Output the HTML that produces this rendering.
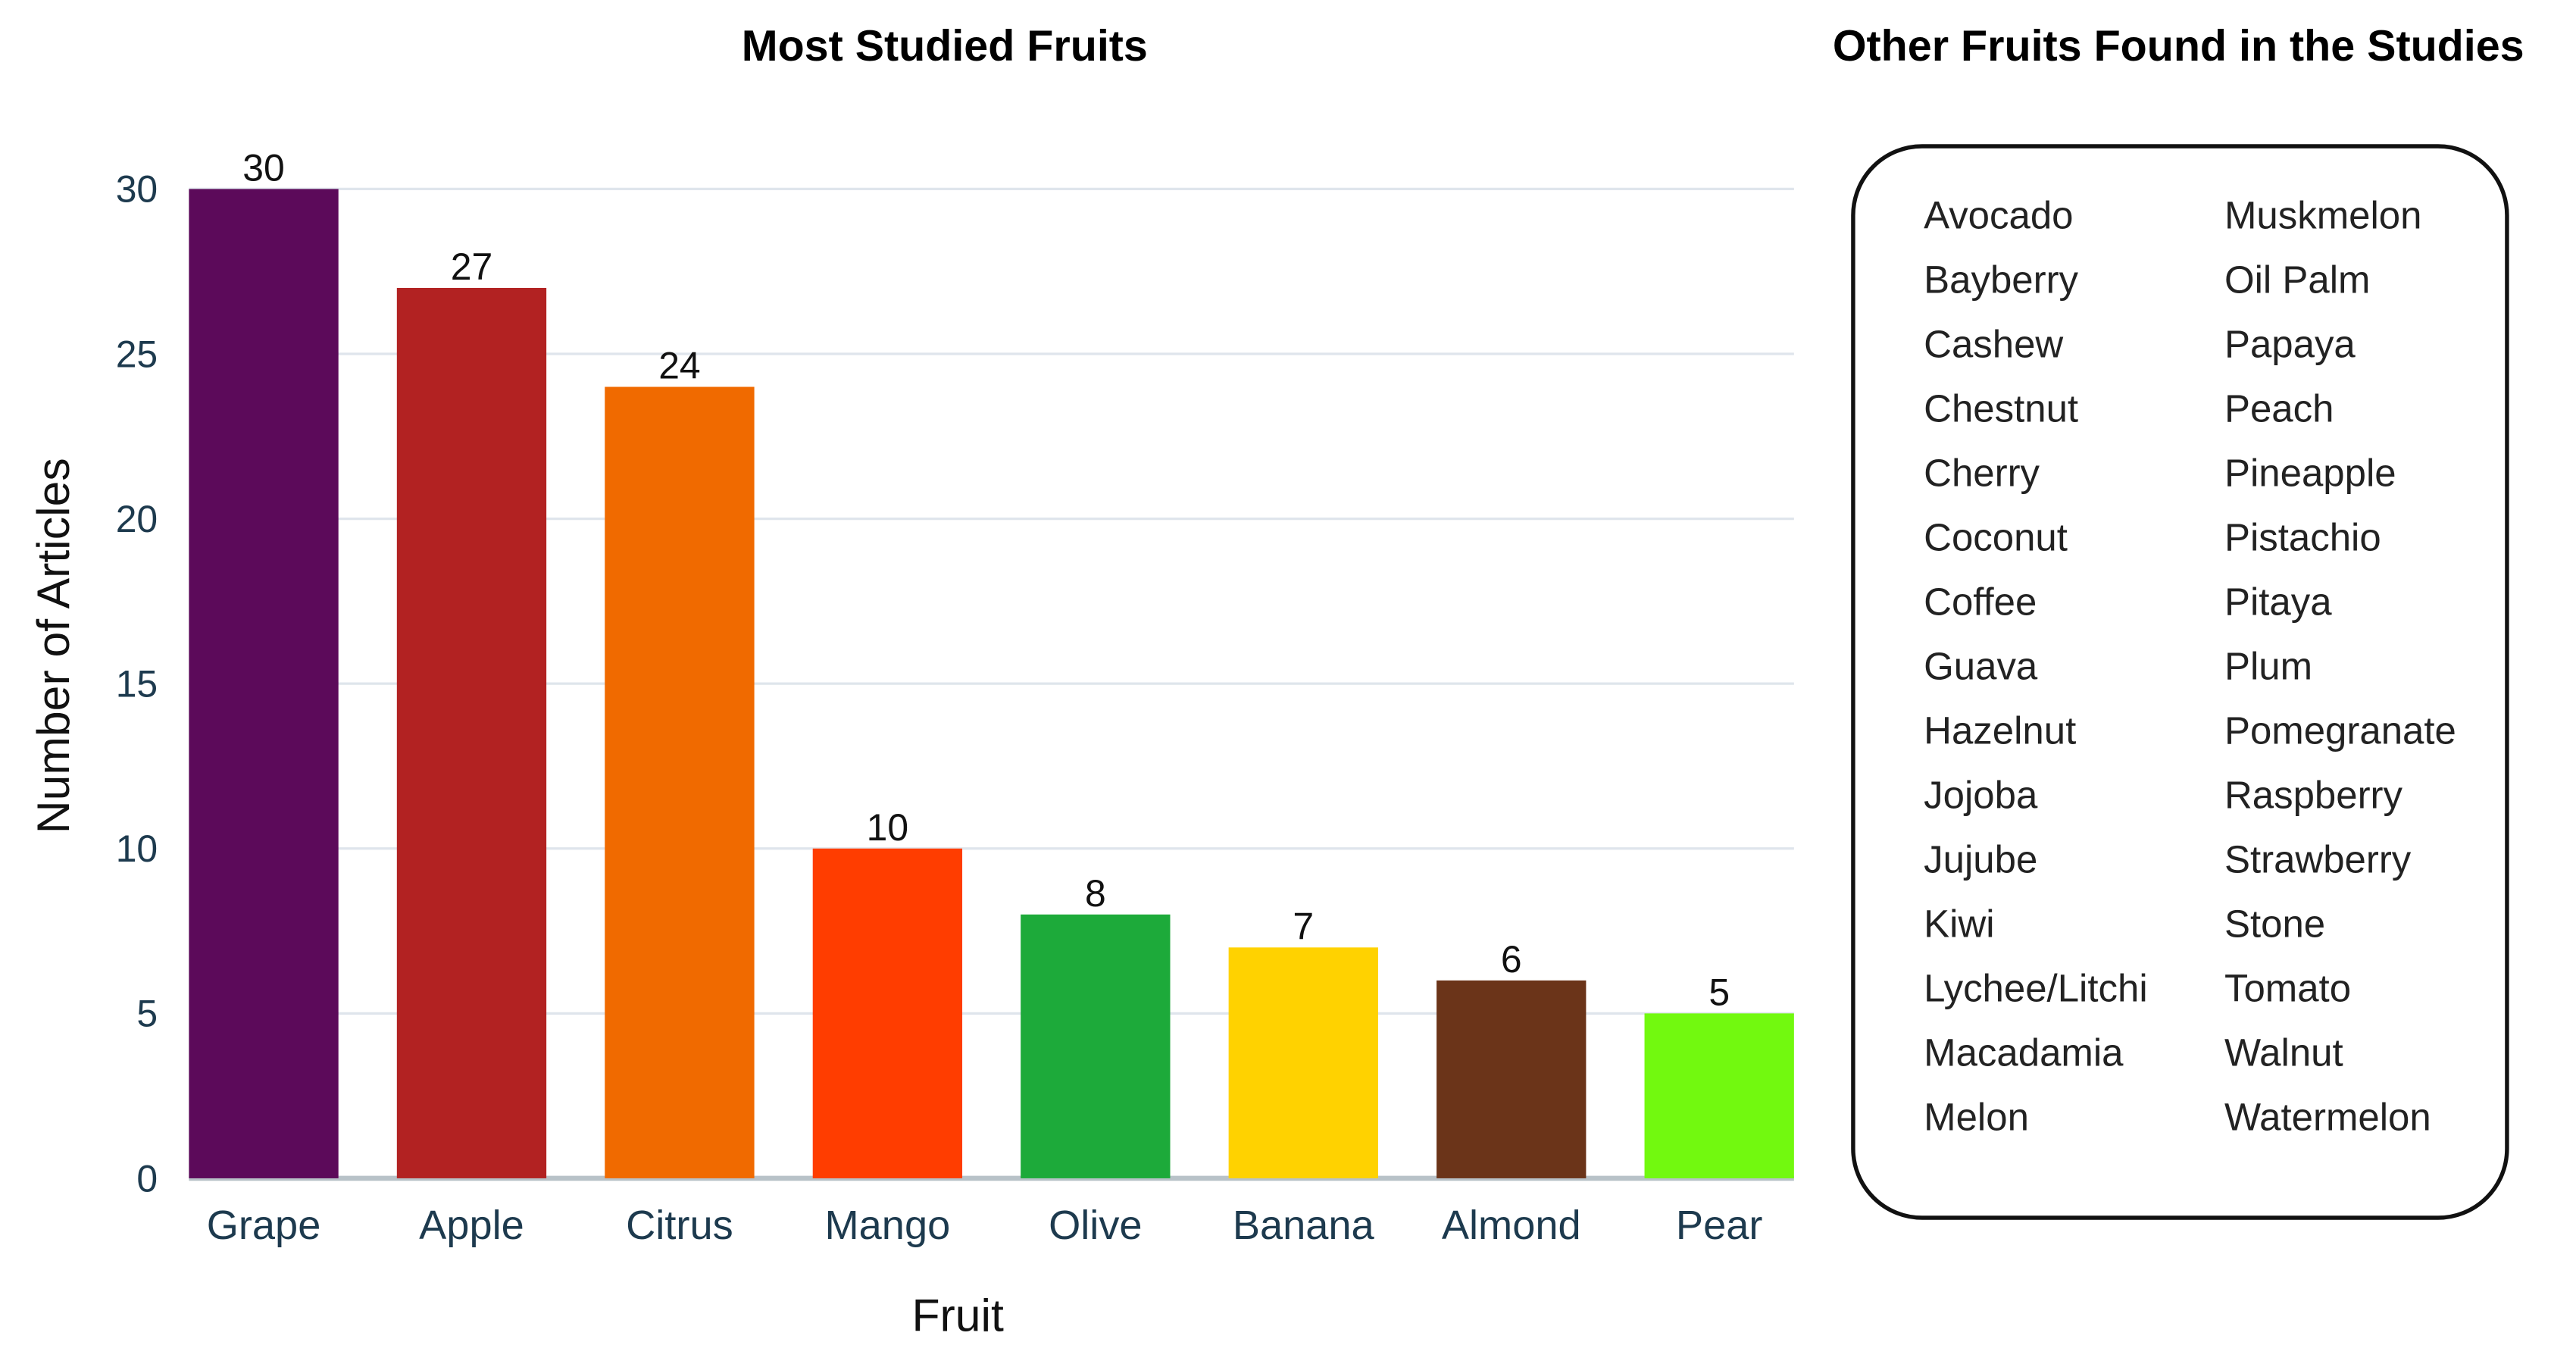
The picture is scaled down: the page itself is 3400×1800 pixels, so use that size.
<!DOCTYPE html>
<html><head><meta charset="utf-8"><style>
html,body{margin:0;padding:0;background:#fff;width:3400px;height:1800px;overflow:hidden}
svg{display:block}
text{font-family:"Liberation Sans",sans-serif}
</style></head><body>
<svg id="chart" width="3400" height="1800" viewBox="0 0 1568 830" preserveAspectRatio="none" xmlns="http://www.w3.org/2000/svg">
<text x="575" y="37" text-anchor="middle" font-size="26.5" font-weight="bold" fill="#000">Most Studied Fruits</text>
<text x="1326" y="37" text-anchor="middle" font-size="26.5" font-weight="bold" fill="#000">Other Fruits Found in the Studies</text>
<g id="grid"></g><g id="bars"></g><g id="labels"></g>
<text transform="translate(42,393) rotate(-90)" text-anchor="middle" font-size="28" fill="#111">Number of Articles</text>
<text x="583" y="810" text-anchor="middle" font-size="28" fill="#111">Fruit</text>
<rect x="1128" y="89" width="398" height="652" rx="42" ry="42" fill="none" stroke="#111" stroke-width="2.5"/>
<g id="others"></g>
</svg>
<script>
const categories=["Grape","Apple","Citrus","Mango","Olive","Banana","Almond","Pear"];
const values=[30,27,24,10,8,7,6,5];
const colors=["#5c0a5a","#b22222","#f06a00","#ff3d00","#1daa3a","#ffd200","#6b3419","#72f90f"];
const yTicks=[0,5,10,15,20,25,30];
const otherCol1=["Avocado","Bayberry","Cashew","Chestnut","Cherry","Coconut","Coffee","Guava","Hazelnut","Jojoba","Jujube","Kiwi","Lychee/Litchi","Macadamia","Melon"];
const otherCol2=["Muskmelon","Oil Palm","Papaya","Peach","Pineapple","Pistachio","Pitaya","Plum","Pomegranate","Raspberry","Strawberry","Stone","Tomato","Walnut","Watermelon"];
const NS="http://www.w3.org/2000/svg";
const X0=115,X1=1092,Y0=717,Y30=115;
const y=v=>Y0-(v/30)*(Y0-Y30);
const bw=91;
const band=(X1-X0-bw)/(categories.length-1);
const x=i=>X0+i*band;
function mk(tag,attrs,parent,txt){const e=document.createElementNS(NS,tag);for(const k in attrs)e.setAttribute(k,attrs[k]);if(txt!==undefined)e.textContent=txt;parent.appendChild(e);return e;}
const grid=document.getElementById('grid'),bars=document.getElementById('bars'),labels=document.getElementById('labels'),others=document.getElementById('others');
yTicks.forEach(t=>{
  const l=mk('line',{x1:X0,x2:X1,y1:y(t),y2:y(t),stroke:t===0?'#b8c2c8':'#dfe5ec','stroke-width':t===0?3:1.5},grid);
  
  
  const tx=mk('text',{x:96,y:y(t)+8,'text-anchor':'end','font-size':23,fill:'#1d3a4e'},grid,t);
  
  
});
categories.forEach((c,i)=>{
  const r=mk('rect',{x:x(i),y:y(values[i]),width:bw,height:Y0-y(values[i]),fill:colors[i]},bars);
  
  
  const v=mk('text',{x:x(i)+bw/2,y:y(values[i])-5,'text-anchor':'middle','font-size':23,fill:'#111'},labels,values[i]);
  
  
  const xl=mk('text',{x:x(i)+bw/2,y:754,'text-anchor':'middle','font-size':25,fill:'#1d3a4e'},labels,c);
  
  
});
otherCol1.forEach((f,i)=>{
  const t=mk('text',{x:1171,y:139+i*39.2,'font-size':23.5,fill:'#222'},others,f);
  
  
});
otherCol2.forEach((f,i)=>{
  const t=mk('text',{x:1354,y:139+i*39.2,'font-size':23.5,fill:'#222'},others,f);
  
  
});
</script>
</body></html>
